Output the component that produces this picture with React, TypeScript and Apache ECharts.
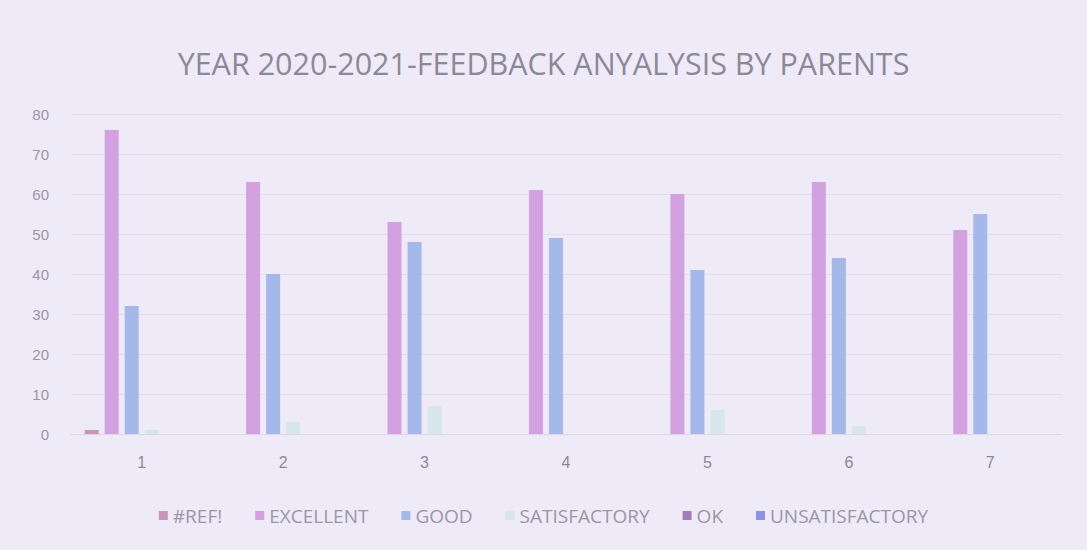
import React, { useEffect, useRef } from "react";
import * as echarts from "echarts";

const categories = ["1", "2", "3", "4", "5", "6", "7"];
const seriesNames = ["#REF!", "EXCELLENT", "GOOD", "SATISFACTORY", "OK", "UNSATISFACTORY"];
const refValues = [1, 0, 0, 0, 0, 0, 0];
const excellentValues = [76, 63, 53, 61, 60, 63, 51];
const goodValues = [32, 40, 48, 49, 41, 44, 55];
const satisfactoryValues = [1, 3, 7, 0, 6, 2, 0];
const okValues = [0, 0, 0, 0, 0, 0, 0];
const unsatisfactoryValues = [0, 0, 0, 0, 0, 0, 0];
const yTicks = [0, 10, 20, 30, 40, 50, 60, 70, 80];

const seriesValues = [refValues, excellentValues, goodValues, satisfactoryValues, okValues, unsatisfactoryValues];
const colors = ["#cc94b8", "#d3a0e0", "#a4b8ea", "#d6e6ea", "#a47cba", "#8f92e2"];

export default function App() {
  const ref = useRef<HTMLDivElement>(null);
  useEffect(() => {
    document.body.style.margin = "0";
    const chart = echarts.init(ref.current!, undefined, { renderer: "svg" });
    chart.setOption({
      animation: false,
      backgroundColor: "#efeaf8",
      title: {
        text: "YEAR 2020-2021-FEEDBACK ANYALYSIS BY PARENTS",
        left: "center",
        top: 42,
        textStyle: { color: "#8c8898", fontSize: 30.5, fontWeight: "normal", fontFamily: "Open Sans" },
      },
      legend: {
        bottom: 20,
        left: "center",
        itemWidth: 9,
        itemHeight: 9,
        itemGap: 33,
        icon: "rect",
        textStyle: { color: "#9a96a8", fontSize: 19, fontFamily: "Open Sans" },
        data: seriesNames,
      },
      grid: { left: 71, right: 26, top: 114, bottom: 116 },
      xAxis: {
        type: "category",
        data: categories,
        axisLine: { lineStyle: { color: "#dcd6e6" } },
        axisTick: { show: false },
        axisLabel: { color: "#8c8898", fontSize: 16, margin: 20 },
      },
      yAxis: {
        type: "value",
        min: yTicks[0],
        max: yTicks[yTicks.length - 1],
        interval: 10,
        axisLine: { show: false },
        axisTick: { show: false },
        axisLabel: { color: "#9a96a8", fontSize: 15, margin: 22 },
        splitLine: { lineStyle: { color: "#e2dcee" } },
      },
      series: seriesNames.map((name, i) => ({
        name,
        type: "bar",
        data: seriesValues[i],
        barWidth: 14,
        barGap: "43%",
        itemStyle: { color: colors[i] },
      })),
    });
    return () => chart.dispose();
  }, []);
  return <div ref={ref} style={{ width: 1087, height: 550 }} />;
}
